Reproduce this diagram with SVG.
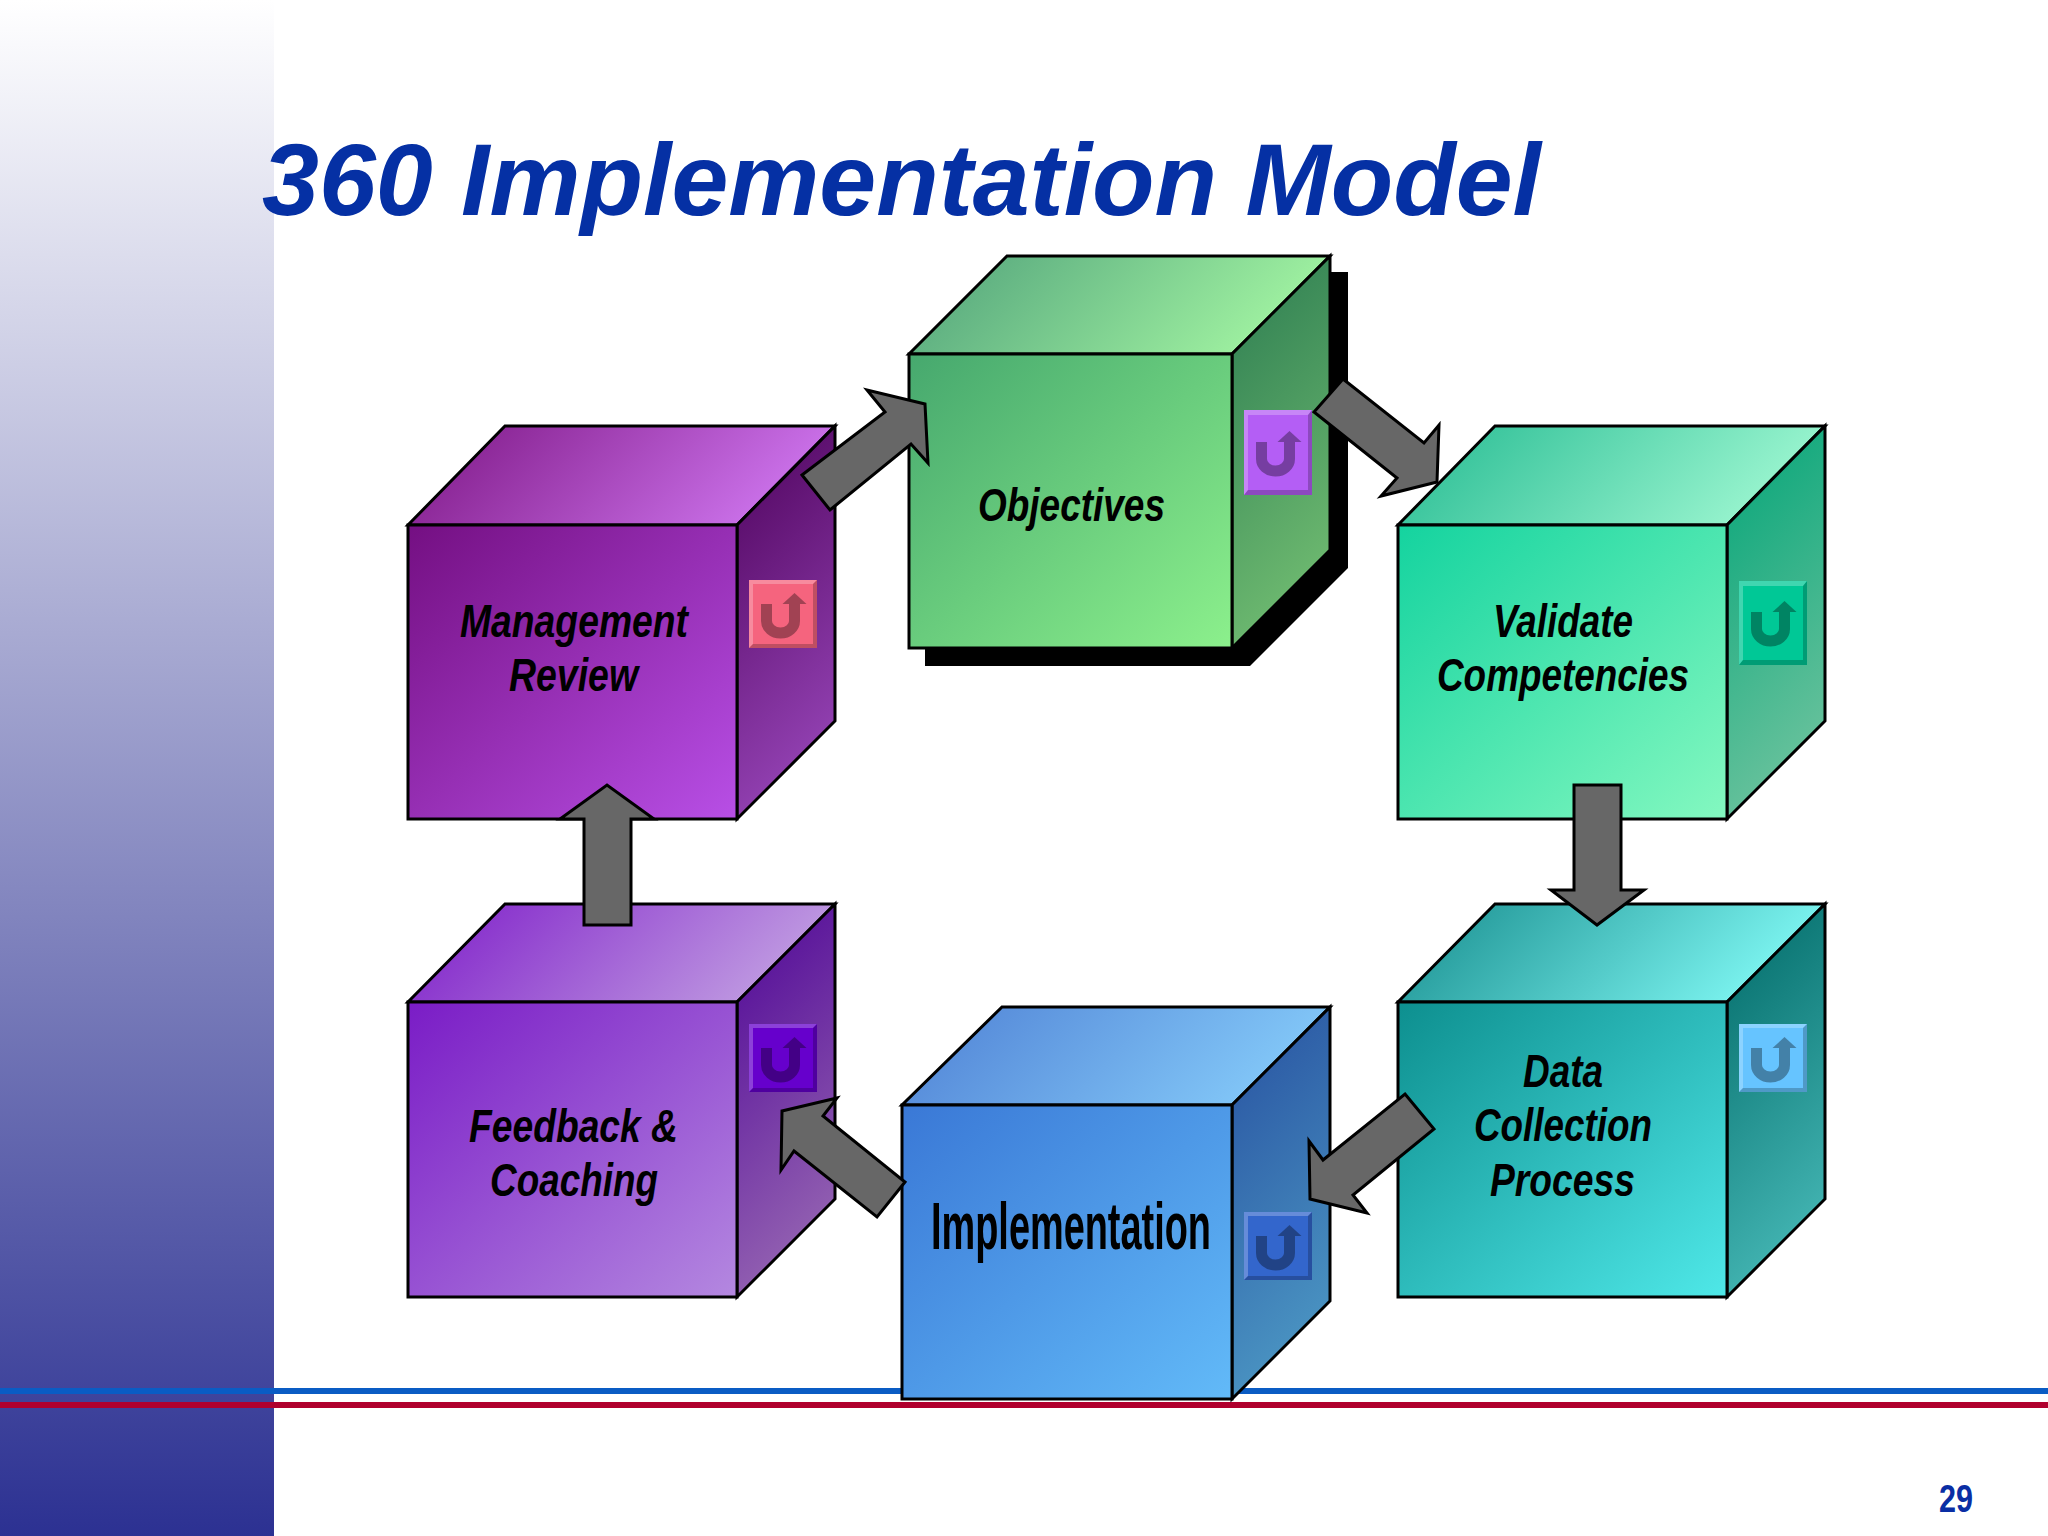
<svg xmlns="http://www.w3.org/2000/svg" xmlns:xlink="http://www.w3.org/1999/xlink" width="2048" height="1536" viewBox="0 0 2048 1536">
<style>
.face{stroke:#000;stroke-width:3;stroke-linejoin:miter}
.arrow{fill:#676767;stroke:#000;stroke-width:3;stroke-linejoin:miter;stroke-miterlimit:10}
.lbl{font-family:"Liberation Sans",Arial,sans-serif;font-weight:bold;font-style:italic;font-size:46px;fill:#000}
.hi{fill:#fff;fill-opacity:.25}
.lo{fill:#000;fill-opacity:.22}
.glyph{fill:none;stroke:#000;stroke-opacity:.34;stroke-width:11}
.head{fill:#000;fill-opacity:.34}
</style>
<defs>
<linearGradient id="band" x1="0" y1="0" x2="0" y2="1"><stop offset="0" stop-color="#fff"/><stop offset="1" stop-color="#2c3192"/></linearGradient>
<linearGradient id="of" x1="0" y1="0" x2="1" y2="1"><stop offset="0" stop-color="#46a86e"/><stop offset="1" stop-color="#8cf08c"/></linearGradient>
<linearGradient id="ot" x1=".23" y1="0" x2=".961" y2=".168"><stop offset="0" stop-color="#62b383"/><stop offset="1" stop-color="#9cee9f"/></linearGradient>
<linearGradient id="os" x1="0" y1=".25" x2=".176" y2=".956"><stop offset="0" stop-color="#3b8a58"/><stop offset="1" stop-color="#6ab66e"/></linearGradient>
<linearGradient id="mf" x1="0" y1="0" x2="1" y2="1"><stop offset="0" stop-color="#740f82"/><stop offset="1" stop-color="#b84fe6"/></linearGradient>
<linearGradient id="mt" x1=".23" y1="0" x2=".961" y2=".168"><stop offset="0" stop-color="#8e2a9a"/><stop offset="1" stop-color="#c86ee6"/></linearGradient>
<linearGradient id="ms" x1="0" y1=".25" x2=".176" y2=".956"><stop offset="0" stop-color="#5e1170"/><stop offset="1" stop-color="#8f3eae"/></linearGradient>
<linearGradient id="vf" x1="0" y1="0" x2="1" y2="1"><stop offset="0" stop-color="#14d39f"/><stop offset="1" stop-color="#84f8c0"/></linearGradient>
<linearGradient id="vt" x1=".23" y1="0" x2=".961" y2=".168"><stop offset="0" stop-color="#3ec79f"/><stop offset="1" stop-color="#94f2cc"/></linearGradient>
<linearGradient id="vs" x1="0" y1=".25" x2=".176" y2=".956"><stop offset="0" stop-color="#1aab80"/><stop offset="1" stop-color="#62c09a"/></linearGradient>
<linearGradient id="df" x1="0" y1="0" x2="1" y2="1"><stop offset="0" stop-color="#0d8f8f"/><stop offset="1" stop-color="#4fe8e8"/></linearGradient>
<linearGradient id="dt" x1=".23" y1="0" x2=".961" y2=".168"><stop offset="0" stop-color="#2da3a3"/><stop offset="1" stop-color="#78f0ec"/></linearGradient>
<linearGradient id="ds" x1="0" y1=".25" x2=".176" y2=".956"><stop offset="0" stop-color="#0f7a78"/><stop offset="1" stop-color="#3fb0ae"/></linearGradient>
<linearGradient id="ff" x1="0" y1="0" x2="1" y2="1"><stop offset="0" stop-color="#7a1cc6"/><stop offset="1" stop-color="#b488e0"/></linearGradient>
<linearGradient id="ft" x1=".23" y1="0" x2=".961" y2=".168"><stop offset="0" stop-color="#8c38ce"/><stop offset="1" stop-color="#bc94e0"/></linearGradient>
<linearGradient id="fs" x1="0" y1=".25" x2=".176" y2=".956"><stop offset="0" stop-color="#5e1a9c"/><stop offset="1" stop-color="#8f5cb0"/></linearGradient>
<linearGradient id="if" x1="0" y1="0" x2="1" y2="1"><stop offset="0" stop-color="#3a78d6"/><stop offset="1" stop-color="#62baf8"/></linearGradient>
<linearGradient id="it" x1=".23" y1="0" x2=".961" y2=".168"><stop offset="0" stop-color="#5a90dc"/><stop offset="1" stop-color="#80c4f6"/></linearGradient>
<linearGradient id="is" x1="0" y1=".25" x2=".176" y2=".956"><stop offset="0" stop-color="#2f60a8"/><stop offset="1" stop-color="#4890c0"/></linearGradient>
<g id="bevel">
<polygon class="hi" points="0,0 68,0 64,4 4,4 4,64 0,68"/>
<polygon class="lo" points="68,0 68,68 0,68 4,64 64,64 64,4"/>
</g>
<g id="uglyph">
<path class="glyph" d="M17.5,24V41a14,12 0 0 0 28,0V24"/>
<polygon class="head" points="33.5,24 45.5,13 57.5,24"/>
</g>
</defs>
<rect width="2048" height="1536" fill="#fff"/>
<g id="background">
<rect x="0" y="0" width="274" height="1536" fill="url(#band)"/>
<rect x="0" y="1388" width="2048" height="6" fill="#0a5cc4"/>
<rect x="0" y="1402" width="2048" height="6" fill="#b0002e"/>
</g>
<text id="title" x="262" y="215" font-family="'Liberation Sans',Arial,sans-serif" font-weight="bold" font-style="italic" font-size="102" fill="#0530a4" textLength="1279" lengthAdjust="spacingAndGlyphs">360 Implementation Model</text>

<g id="objectives">
<polygon points="1325,272 1348,272 1348,568 1250,666 925,666 925,645 1232,645 1325,552" fill="#000"/>
<polygon class="face" points="1007,256 1330,256 1232,354 909,354" fill="url(#ot)"/>
<polygon class="face" points="1232,354 1330,256 1330,550 1232,648" fill="url(#os)"/>
<rect class="face" x="909" y="354" width="323" height="294" fill="url(#of)"/>
<rect x="1244" y="410" width="68" height="85" fill="#b45ef5"/>
<use xlink:href="#bevel" href="#bevel" transform="translate(1244,410) scale(1,1.25)"/>
<use xlink:href="#uglyph" href="#uglyph" transform="translate(1244,418)"/>
<text class="lbl" x="978" y="521" textLength="187" lengthAdjust="spacingAndGlyphs">Objectives</text>
</g>

<g id="management-review">
<polygon class="face" points="505,426 835,426 737,525 408,525" fill="url(#mt)"/>
<polygon class="face" points="737,525 835,426 835,721 737,819" fill="url(#ms)"/>
<rect class="face" x="408" y="525" width="329" height="294" fill="url(#mf)"/>
<rect x="749" y="580" width="68" height="68" fill="#f5647e"/>
<use xlink:href="#bevel" href="#bevel" transform="translate(749,580)"/>
<use xlink:href="#uglyph" href="#uglyph" transform="translate(749,580)"/>
<text class="lbl" x="460" y="637" textLength="228" lengthAdjust="spacingAndGlyphs">Management</text>
<text class="lbl" x="509" y="691" textLength="129" lengthAdjust="spacingAndGlyphs">Review</text>
</g>

<g id="validate-competencies">
<polygon class="face" points="1495,426 1825,426 1727,525 1398,525" fill="url(#vt)"/>
<polygon class="face" points="1727,525 1825,426 1825,721 1727,819" fill="url(#vs)"/>
<rect class="face" x="1398" y="525" width="329" height="294" fill="url(#vf)"/>
<rect x="1739" y="581" width="68" height="84" fill="#00c896"/>
<use xlink:href="#bevel" href="#bevel" transform="translate(1739,581) scale(1,1.235)"/>
<use xlink:href="#uglyph" href="#uglyph" transform="translate(1739,588)"/>
<text class="lbl" x="1493" y="637" textLength="140" lengthAdjust="spacingAndGlyphs">Validate</text>
<text class="lbl" x="1437" y="691" textLength="252" lengthAdjust="spacingAndGlyphs">Competencies</text>
</g>

<g id="data-collection-process">
<polygon class="face" points="1495,904 1825,904 1727,1002 1398,1002" fill="url(#dt)"/>
<polygon class="face" points="1727,1002 1825,904 1825,1199 1727,1297" fill="url(#ds)"/>
<rect class="face" x="1398" y="1002" width="329" height="295" fill="url(#df)"/>
<rect x="1739" y="1024" width="68" height="68" fill="#66c4ff"/>
<use xlink:href="#bevel" href="#bevel" transform="translate(1739,1024)"/>
<use xlink:href="#uglyph" href="#uglyph" transform="translate(1739,1024)"/>
<text class="lbl" x="1523" y="1087" textLength="80" lengthAdjust="spacingAndGlyphs">Data</text>
<text class="lbl" x="1474" y="1141" textLength="178" lengthAdjust="spacingAndGlyphs">Collection</text>
<text class="lbl" x="1490" y="1196" textLength="145" lengthAdjust="spacingAndGlyphs">Process</text>
</g>

<g id="feedback-coaching">
<polygon class="face" points="505,904 835,904 737,1002 408,1002" fill="url(#ft)"/>
<polygon class="face" points="737,1002 835,904 835,1199 737,1297" fill="url(#fs)"/>
<rect class="face" x="408" y="1002" width="329" height="295" fill="url(#ff)"/>
<rect x="749" y="1024" width="68" height="68" fill="#6600cc"/>
<use xlink:href="#bevel" href="#bevel" transform="translate(749,1024)"/>
<use xlink:href="#uglyph" href="#uglyph" transform="translate(749,1024)"/>
<text class="lbl" x="469" y="1142" textLength="209" lengthAdjust="spacingAndGlyphs">Feedback &amp;</text>
<text class="lbl" x="490" y="1196" textLength="168" lengthAdjust="spacingAndGlyphs">Coaching</text>
</g>

<g id="implementation">
<polygon class="face" points="1002,1007 1330,1007 1232,1105 902,1105" fill="url(#it)"/>
<polygon class="face" points="1232,1105 1330,1007 1330,1301 1232,1399" fill="url(#is)"/>
<rect class="face" x="902" y="1105" width="330" height="294" fill="url(#if)"/>
<rect x="1244" y="1212" width="68" height="68" fill="#3366cc"/>
<use xlink:href="#bevel" href="#bevel" transform="translate(1244,1212)"/>
<use xlink:href="#uglyph" href="#uglyph" transform="translate(1244,1212)"/>
<text x="931" y="1249" font-family="'Liberation Sans',Arial,sans-serif" font-weight="bold" font-size="66" fill="#000" textLength="280" lengthAdjust="spacingAndGlyphs">Implementation</text>
</g>

<g id="connectors">
<polygon class="arrow" points="584,925 631,925 631,819 654,819 607,785 560,819 584,819"/>
<polygon class="arrow" points="802,475 885,412 867,390 925,404 928,463 911,444 830,510"/>
<polygon class="arrow" points="1343,379 1424,443 1439,425 1437,482 1381,496 1397,478 1314,412"/>
<polygon class="arrow" points="1574,785 1621,785 1621,890 1644,890 1597,925 1551,890 1574,890"/>
<polygon class="arrow" points="1405,1094 1434,1129 1353,1195 1367,1213 1310,1199 1309,1141 1323,1160"/>
<polygon class="arrow" points="905,1182 877,1217 794,1151 781,1170 782,1111 837,1098 823,1116"/>
</g>
<text id="page-number" x="1939" y="1512" font-family="'Liberation Sans',Arial,sans-serif" font-weight="bold" font-size="38" fill="#0a2ea4" textLength="34" lengthAdjust="spacingAndGlyphs">29</text>
</svg>
